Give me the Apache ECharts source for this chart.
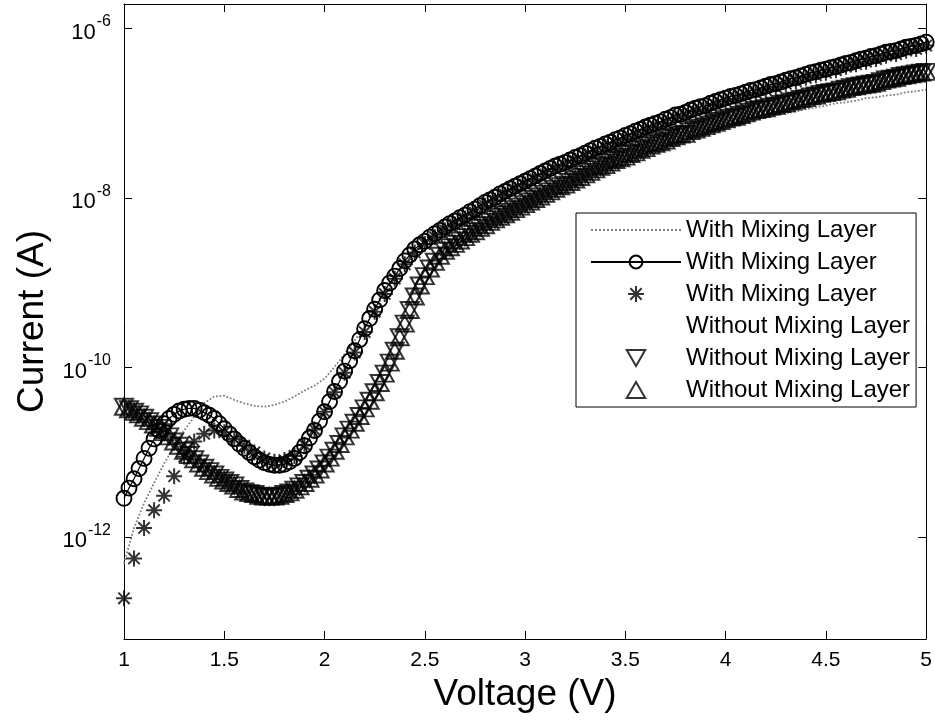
<!DOCTYPE html>
<html>
<head>
<meta charset="utf-8">
<script src="https://cdn.jsdelivr.net/npm/echarts@6/dist/echarts.min.js"></script>
<style>
  html, body { margin: 0; padding: 0; background: #fff; }
  #chart { width: 935px; height: 721px; }
</style>
</head>
<body>
<div id="chart"></div>
<script>
// bias voltage (V): the dense sweep (every 0.025 V) and the coarse one (every 0.05 V)
const voltageFine = [
  1.000, 1.025, 1.050, 1.075, 1.100, 1.125, 1.150, 1.175,
  1.200, 1.225, 1.250, 1.275, 1.300, 1.325, 1.350, 1.375,
  1.400, 1.425, 1.450, 1.475, 1.500, 1.525, 1.550, 1.575,
  1.600, 1.625, 1.650, 1.675, 1.700, 1.725, 1.750, 1.775,
  1.800, 1.825, 1.850, 1.875, 1.900, 1.925, 1.950, 1.975,
  2.000, 2.025, 2.050, 2.075, 2.100, 2.125, 2.150, 2.175,
  2.200, 2.225, 2.250, 2.275, 2.300, 2.325, 2.350, 2.375,
  2.400, 2.425, 2.450, 2.475, 2.500, 2.525, 2.550, 2.575,
  2.600, 2.625, 2.650, 2.675, 2.700, 2.725, 2.750, 2.775,
  2.800, 2.825, 2.850, 2.875, 2.900, 2.925, 2.950, 2.975,
  3.000, 3.025, 3.050, 3.075, 3.100, 3.125, 3.150, 3.175,
  3.200, 3.225, 3.250, 3.275, 3.300, 3.325, 3.350, 3.375,
  3.400, 3.425, 3.450, 3.475, 3.500, 3.525, 3.550, 3.575,
  3.600, 3.625, 3.650, 3.675, 3.700, 3.725, 3.750, 3.775,
  3.800, 3.825, 3.850, 3.875, 3.900, 3.925, 3.950, 3.975,
  4.000, 4.025, 4.050, 4.075, 4.100, 4.125, 4.150, 4.175,
  4.200, 4.225, 4.250, 4.275, 4.300, 4.325, 4.350, 4.375,
  4.400, 4.425, 4.450, 4.475, 4.500, 4.525, 4.550, 4.575,
  4.600, 4.625, 4.650, 4.675, 4.700, 4.725, 4.750, 4.775,
  4.800, 4.825, 4.850, 4.875, 4.900, 4.925, 4.950, 4.975,
  5.000
];
const voltageCoarse = [
  1.00, 1.05, 1.10, 1.15, 1.20, 1.25, 1.30, 1.35, 1.40, 1.45,
  1.50, 1.55, 1.60, 1.65, 1.70, 1.75, 1.80, 1.85, 1.90, 1.95,
  2.00, 2.05, 2.10, 2.15, 2.20, 2.25, 2.30, 2.35, 2.40, 2.45,
  2.50, 2.55, 2.60, 2.65, 2.70, 2.75, 2.80, 2.85, 2.90, 2.95,
  3.00, 3.05, 3.10, 3.15, 3.20, 3.25, 3.30, 3.35, 3.40, 3.45,
  3.50, 3.55, 3.60, 3.65, 3.70, 3.75, 3.80, 3.85, 3.90, 3.95,
  4.00, 4.05, 4.10, 4.15, 4.20, 4.25, 4.30, 4.35, 4.40, 4.45,
  4.50, 4.55, 4.60, 4.65, 4.70, 4.75, 4.80, 4.85, 4.90, 4.95,
  5.00
];

// currents, as decades (log10 of amperes)
const withDotted = [ // coarse sweep
  -12.31, -11.89, -11.60, -11.36, -11.13, -10.93, -10.74, -10.58, -10.42, -10.34,
  -10.33, -10.38, -10.42, -10.45, -10.46, -10.44, -10.40, -10.34, -10.27, -10.21,
  -10.13, -9.99, -9.84, -9.68, -9.52, -9.33, -9.12, -8.93, -8.76, -8.62,
  -8.53, -8.45, -8.39, -8.33, -8.27, -8.21, -8.16, -8.12, -8.07, -8.04,
  -8.00, -7.95, -7.91, -7.87, -7.82, -7.79, -7.74, -7.69, -7.66, -7.61,
  -7.56, -7.52, -7.47, -7.42, -7.39, -7.34, -7.31, -7.27, -7.24, -7.20,
  -7.16, -7.14, -7.11, -7.08, -7.05, -7.02, -7.00, -6.98, -6.95, -6.93,
  -6.91, -6.88, -6.87, -6.85, -6.82, -6.81, -6.79, -6.78, -6.75, -6.74,
  -6.72
];
const withCircle = [ // fine sweep
  -11.54, -11.42, -11.31, -11.19, -11.07, -10.95, -10.84, -10.74,
  -10.66, -10.60, -10.55, -10.51, -10.49, -10.48, -10.48, -10.50,
  -10.53, -10.56, -10.60, -10.66, -10.72, -10.78, -10.84, -10.90,
  -10.95, -11.00, -11.05, -11.09, -11.12, -11.14, -11.15, -11.15,
  -11.14, -11.11, -11.07, -11.00, -10.92, -10.83, -10.74, -10.63,
  -10.52, -10.40, -10.28, -10.16, -10.04, -9.92, -9.80, -9.67,
  -9.54, -9.42, -9.31, -9.20, -9.09, -9.00, -8.92, -8.83,
  -8.74, -8.67, -8.60, -8.55, -8.51, -8.46, -8.42, -8.38,
  -8.34, -8.30, -8.27, -8.23, -8.20, -8.16, -8.13, -8.09,
  -8.05, -8.02, -7.99, -7.95, -7.92, -7.89, -7.86, -7.83,
  -7.80, -7.77, -7.74, -7.71, -7.68, -7.65, -7.62, -7.60,
  -7.58, -7.55, -7.52, -7.50, -7.47, -7.44, -7.41, -7.39,
  -7.36, -7.34, -7.31, -7.29, -7.26, -7.24, -7.21, -7.19,
  -7.16, -7.14, -7.12, -7.10, -7.07, -7.05, -7.02, -7.01,
  -6.99, -6.96, -6.94, -6.92, -6.91, -6.88, -6.86, -6.84,
  -6.82, -6.80, -6.79, -6.77, -6.75, -6.73, -6.72, -6.70,
  -6.68, -6.66, -6.65, -6.63, -6.61, -6.59, -6.58, -6.56,
  -6.54, -6.52, -6.51, -6.49, -6.48, -6.46, -6.45, -6.43,
  -6.41, -6.40, -6.38, -6.36, -6.35, -6.33, -6.32, -6.30,
  -6.28, -6.27, -6.26, -6.24, -6.22, -6.21, -6.20, -6.18,
  -6.16
];
const withStar = [ // coarse sweep
  -12.72, -12.25, -11.89, -11.68, -11.51, -11.28, -11.05, -10.87, -10.78, -10.74,
  -10.76, -10.84, -10.92, -11.00, -11.07, -11.11, -11.09, -11.04, -10.91, -10.73,
  -10.52, -10.29, -10.06, -9.82, -9.58, -9.34, -9.13, -8.95, -8.78, -8.64,
  -8.54, -8.46, -8.38, -8.31, -8.24, -8.17, -8.09, -8.03, -7.96, -7.90,
  -7.84, -7.78, -7.72, -7.66, -7.62, -7.56, -7.51, -7.45, -7.40, -7.35,
  -7.30, -7.25, -7.20, -7.16, -7.11, -7.06, -7.03, -6.98, -6.95, -6.90,
  -6.86, -6.83, -6.79, -6.76, -6.72, -6.69, -6.65, -6.62, -6.58, -6.55,
  -6.52, -6.49, -6.45, -6.42, -6.39, -6.36, -6.32, -6.30, -6.26, -6.24,
  -6.20
];
// fine sweep; the two triangle runs sit on top of each other
const withoutTri = [
  -10.46, -10.49, -10.52, -10.55, -10.59, -10.63, -10.67, -10.71,
  -10.76, -10.81, -10.87, -10.92, -10.98, -11.03, -11.08, -11.13,
  -11.18, -11.22, -11.26, -11.30, -11.33, -11.36, -11.39, -11.43,
  -11.46, -11.48, -11.49, -11.51, -11.52, -11.52, -11.52, -11.51,
  -11.49, -11.47, -11.44, -11.40, -11.36, -11.31, -11.26, -11.20,
  -11.13, -11.06, -10.98, -10.90, -10.81, -10.73, -10.65, -10.57,
  -10.48, -10.39, -10.29, -10.18, -10.07, -9.94, -9.80, -9.64,
  -9.48, -9.32, -9.16, -9.03, -8.92, -8.83, -8.75, -8.68,
  -8.62, -8.58, -8.54, -8.50, -8.46, -8.42, -8.39, -8.35,
  -8.32, -8.28, -8.25, -8.22, -8.19, -8.16, -8.13, -8.10,
  -8.07, -8.04, -8.01, -7.98, -7.95, -7.92, -7.89, -7.86,
  -7.84, -7.81, -7.78, -7.75, -7.72, -7.69, -7.66, -7.63,
  -7.61, -7.58, -7.55, -7.53, -7.51, -7.48, -7.46, -7.43,
  -7.41, -7.38, -7.36, -7.34, -7.32, -7.29, -7.27, -7.25,
  -7.24, -7.21, -7.19, -7.17, -7.15, -7.13, -7.11, -7.09,
  -7.07, -7.05, -7.04, -7.02, -7.00, -6.98, -6.96, -6.95,
  -6.94, -6.92, -6.91, -6.89, -6.88, -6.86, -6.85, -6.83,
  -6.82, -6.80, -6.79, -6.77, -6.76, -6.75, -6.74, -6.72,
  -6.71, -6.69, -6.68, -6.67, -6.66, -6.65, -6.64, -6.62,
  -6.60, -6.59, -6.58, -6.56, -6.55, -6.54, -6.53, -6.52,
  -6.51
];

const legendNames = [
  'With Mixing Layer#1', 'With Mixing Layer#2', 'With Mixing Layer#3',
  'Without Mixing Layer#4', 'Without Mixing Layer#5', 'Without Mixing Layer#6'
];
const yTickValues = [1e-12, 1e-10, 1e-8, 1e-6];

const yMinExp = -13.2;
const yMaxExp = -5.71;

function toPoints(xs, decades) {
  return xs.map((v, i) => [v, Math.pow(10, decades[i])]);
}

const asterisk = 'path://M0,-10L0,10M-10,0L10,0M-7.1,-7.1L7.1,7.1M-7.1,7.1L7.1,-7.1';
const triUp = 'path://M0,-10L8.66,5L-8.66,5Z';
const triDown = 'path://M0,10L8.66,-5L-8.66,-5Z';
const font = '"Liberation Sans", Arial, Helvetica, sans-serif';

const chart = echarts.init(document.getElementById('chart'), null, { renderer: 'canvas' });

const axisLineStyle = { show: true, lineStyle: { color: '#000', width: 1 } };

function yLabel(v) {
  const r = Math.round(Math.log10(v));
  return '{b|10}{s|' + r + '}';
}

const option = {
  animation: false,
  backgroundColor: '#fff',
  textStyle: { fontFamily: font },
  grid: { left: 124, right: 7, top: 4, bottom: 82, containLabel: false },
  legend: {
    orient: 'vertical',
    left: 576,
    top: 213,
    padding: [4, 6, 4, 14],
    backgroundColor: '#fff',
    borderColor: '#000',
    borderWidth: 1,
    borderRadius: 0,
    itemWidth: 90,
    itemHeight: 16,
    itemGap: 6,
    formatter: name => name.split('#')[0],
    textStyle: { fontSize: 24, color: '#000', fontFamily: font, lineHeight: 26 },
    data: [
      { name: legendNames[0], itemStyle: { opacity: 0 } },
      { name: legendNames[1] },
      { name: legendNames[2] },
      { name: legendNames[3], itemStyle: { opacity: 0 }, lineStyle: { opacity: 0 } },
      { name: legendNames[4] },
      { name: legendNames[5] }
    ]
  },
  xAxis: [
    {
      type: 'value', min: 1, max: 5, interval: 0.5, position: 'bottom',
      axisLine: axisLineStyle,
      axisTick: { show: true, inside: true, length: 8, lineStyle: { color: '#000' } },
      splitLine: { show: false },
      axisLabel: { fontSize: 21, color: '#000', margin: 11, formatter: v => String(v) },
      name: 'Voltage (V)', nameLocation: 'middle', nameGap: 36,
      nameTextStyle: { fontSize: 37, color: '#000' }
    },
    {
      type: 'value', min: 1, max: 5, interval: 0.5, position: 'top',
      axisLine: axisLineStyle,
      axisTick: { show: true, inside: true, length: 8, lineStyle: { color: '#000' } },
      splitLine: { show: false },
      axisLabel: { show: false }
    }
  ],
  yAxis: [
    {
      type: 'log', logBase: 10, position: 'left',
      min: Math.pow(10, yMinExp), max: Math.pow(10, yMaxExp),
      axisLine: axisLineStyle,
      axisTick: { show: true, inside: true, length: 8, lineStyle: { color: '#000' }, customValues: yTickValues },
      splitLine: { show: false },
      axisLabel: {
        color: '#000', margin: 13, formatter: yLabel, customValues: yTickValues,
        rich: {
          b: { fontSize: 22, color: '#000', lineHeight: 30, verticalAlign: 'bottom' },
          s: { fontSize: 16, color: '#000', lineHeight: 16, verticalAlign: 'top', padding: [0, 0, 0, 1] }
        }
      },
      name: 'Current (A)', nameLocation: 'middle', nameGap: 66, nameRotate: 90,
      nameTextStyle: { fontSize: 37, color: '#000', padding: [0, 0, 0, 0] }
    },
    {
      type: 'log', logBase: 10, position: 'right',
      min: Math.pow(10, yMinExp), max: Math.pow(10, yMaxExp),
      axisLine: axisLineStyle,
      axisTick: { show: true, inside: true, length: 8, lineStyle: { color: '#000' }, customValues: yTickValues },
      splitLine: { show: false },
      axisLabel: { show: false }
    }
  ],
  series: [
    {
      name: legendNames[0], type: 'line', data: toPoints(voltageCoarse, withDotted),
      symbol: 'none', lineStyle: { color: '#808080', width: 1.8, type: 'dotted' },
      itemStyle: { color: '#808080' }, z: 2
    },
    {
      name: legendNames[1], type: 'line', data: toPoints(voltageFine, withCircle),
      symbol: 'circle', symbolSize: 15, showAllSymbol: true,
      lineStyle: { color: '#000', width: 1.2 },
      itemStyle: { color: 'transparent', borderColor: '#000', borderWidth: 1.9 }, z: 3
    },
    {
      name: legendNames[2], type: 'scatter', data: toPoints(voltageCoarse, withStar),
      symbol: asterisk, symbolSize: 16,
      itemStyle: { color: 'transparent', borderColor: '#000', borderWidth: 2 }, z: 4
    },
    {
      name: legendNames[3], type: 'line', data: [],
      symbol: 'none', lineStyle: { color: '#fff', width: 0 }, z: 1
    },
    {
      name: legendNames[4], type: 'scatter', data: toPoints(voltageFine, withoutTri),
      symbol: triDown, symbolSize: [18, 16],
      itemStyle: { color: 'transparent', borderColor: '#000', borderWidth: 2 }, z: 5
    },
    {
      name: legendNames[5], type: 'scatter', data: toPoints(voltageFine, withoutTri),
      symbol: triUp, symbolSize: [18, 16],
      itemStyle: { color: 'transparent', borderColor: '#000', borderWidth: 2 }, z: 6
    }
  ]
};

chart.setOption(option);
</script>
</body>
</html>
